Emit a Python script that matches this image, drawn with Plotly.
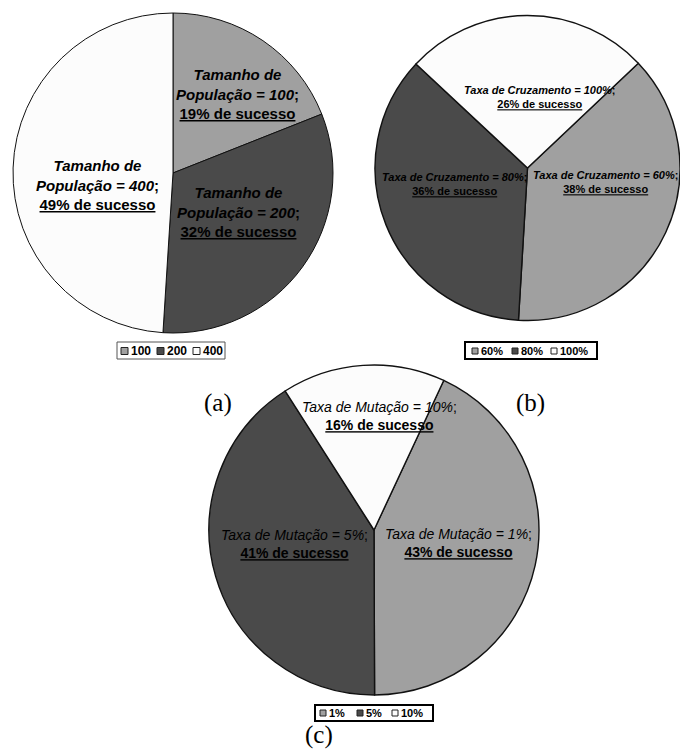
import plotly.graph_objects as go

# --- data -------------------------------------------------------------
pop_sizes = ["100", "200", "400"]
pop_success = [19, 32, 49]

cross_rates = ["60%", "80%", "100%"]
cross_success = [38, 36, 26]

mut_rates = ["1%", "5%", "10%"]
mut_success = [43, 41, 16]

slice_colors = ["#a0a0a0", "#4a4a4a", "#fcfcfc"]
panel_tags = ["(a)", "(b)", "(c)"]

W, H = 680, 751
FONT = "Liberation Sans, Arial, sans-serif"
SERIF = "Liberation Serif, Times New Roman, serif"


def px(x):
    return x / W


def py(y):
    return 1 - y / H


def dom(x0, x1, y0, y1):
    return dict(x=[px(x0), px(x1)], y=[py(y1), py(y0)])


fig = go.Figure()

pies = [
    (pop_sizes, pop_success, 0, dom(13, 333, 13, 333), 1.0),
    (cross_rates, cross_success, 46.6, dom(375, 680, 13, 323), 1.4),
    (mut_rates, mut_success, 25, dom(209, 539, 365, 695), 1.4),
]
for labels, values, rot, domain, lw in pies:
    fig.add_trace(go.Pie(
        labels=labels, values=values, sort=False, direction="clockwise",
        rotation=rot, domain=domain, textinfo="none", hoverinfo="label+value",
        showlegend=False,
        marker=dict(colors=slice_colors, line=dict(color="#111111", width=lw)),
    ))

annotations = []


def label(x, y, text, size):
    annotations.append(dict(
        x=px(x), y=py(y), xref="paper", yref="paper", text=text,
        showarrow=False, xanchor="center", yanchor="middle", align="center",
        font=dict(family=FONT, size=size, color="#000000"),
    ))


# slice labels, panel (a)
pos_a = [(237, 94), (239, 212), (97, 185)]
for cat, val, (x, y) in zip(pop_sizes, pop_success, pos_a):
    label(x, y, f"<b><i>Tamanho de<br>População = {cat}</i>;<br>"
                f"<u>{val}% de sucesso</u></b>", 15)

# slice labels, panel (b)
pos_b = [(605, 182), (454, 184), (540, 97)]
for cat, val, (x, y) in zip(cross_rates, cross_success, pos_b):
    label(x, y, f"<b><i>Taxa de Cruzamento = {cat}</i>;<br>"
                f"<u>{val}% de sucesso</u></b>", 11)

# slice labels, panel (c)
pos_c = [(458, 543), (294, 544), (379, 416)]
for cat, val, (x, y) in zip(mut_rates, mut_success, pos_c):
    label(x, y, f"<i>Taxa de Mutação = {cat}</i>;<br>"
                f"<b><u>{val}% de sucesso</u></b>", 14)

# panel tags
for tag, (x, y) in zip(panel_tags, [(218, 403), (530, 403), (319, 735)]):
    annotations.append(dict(
        x=px(x), y=py(y), xref="paper", yref="paper", text=tag,
        showarrow=False, xanchor="center", yanchor="middle",
        font=dict(family=SERIF, size=25, color="#000000"),
    ))

shapes = []


def legend_box(box, border_w, border_c, sq_x, sq, yc, names, fsize):
    x0, x1, y0, y1 = box
    shapes.append(dict(type="rect", xref="paper", yref="paper",
                       x0=px(x0), x1=px(x1), y0=py(y1), y1=py(y0),
                       line=dict(color=border_c, width=border_w),
                       fillcolor="#ffffff", layer="above"))
    for sx, name, col in zip(sq_x, names, slice_colors):
        shapes.append(dict(type="rect", xref="paper", yref="paper",
                           x0=px(sx), x1=px(sx + sq),
                           y0=py(yc + sq / 2), y1=py(yc - sq / 2),
                           line=dict(color="#222222", width=1),
                           fillcolor=col, layer="above"))
        annotations.append(dict(
            x=px(sx + sq + 1), y=py(yc), xref="paper", yref="paper",
            text=f"<b>{name}</b>", showarrow=False,
            xanchor="left", yanchor="middle",
            font=dict(family=FONT, size=fsize, color="#000000"),
        ))


legend_box((117, 225, 342, 359), 1, "#555555", [121, 157, 193], 7, 351,
           pop_sizes, 12)
legend_box((465, 597, 342, 359), 2, "#000000", [472, 512, 551], 6, 351,
           cross_rates, 11)
legend_box((315, 433, 705, 721), 2, "#000000", [320, 357, 392], 6, 713,
           mut_rates, 11)

fig.update_layout(
    width=W, height=H, margin=dict(l=0, r=0, t=0, b=0),
    paper_bgcolor="#ffffff", plot_bgcolor="#ffffff",
    annotations=annotations, shapes=shapes,
)

fig.write_html("out.html")
